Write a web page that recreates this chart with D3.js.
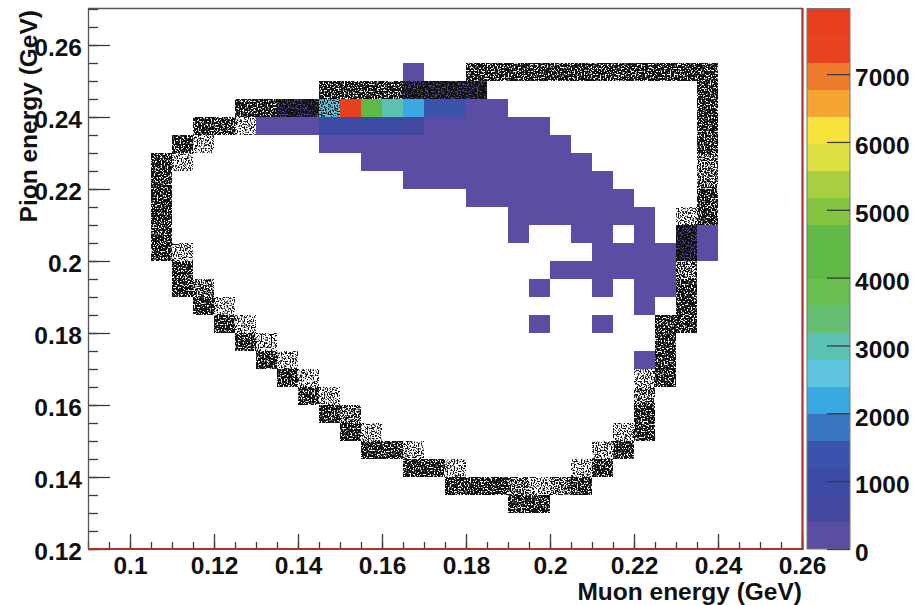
<!DOCTYPE html>
<html>
<head>
<meta charset="utf-8">
<script src="https://cdn.jsdelivr.net/npm/d3@7"></script>
<style>
  body { margin: 0; background: #fff; }
  text { font-family: "Liberation Sans", Arial, Helvetica, sans-serif; font-weight: bold; }
</style>
</head>
<body>
<svg id="chart" width="915" height="605"></svg>
<script>
var W = 915, H = 605;
var binW = 0.005;

// axis ticks
var xTicks = [0.1, 0.12, 0.14, 0.16, 0.18, 0.2, 0.22, 0.24, 0.26];
var yTicks = [0.12, 0.14, 0.16, 0.18, 0.2, 0.22, 0.24, 0.26];
var zTicks = [0, 1000, 2000, 3000, 4000, 5000, 6000, 7000];
var zMax = 7960;

// colour palette of the z axis, 20 contours from low to high
var palette = ['#5a4ea4', '#4447a0', '#3c4aa4', '#3a54ae', '#3a75c0', '#3aa8e2', '#5ec3dc', '#5bc2b2',
               '#64bf72', '#6abf52', '#60b847', '#60b847', '#84c440', '#a8cf40', '#dce040', '#f8e33c',
               '#f6a434', '#ee7a2c', '#e8441f', '#e8401f'];

// coloured histogram: [muon energy bin low edge, pion energy bin low edge, entries]
var histCells = [
  [0.165, 0.25, 180],
  [0.165, 0.245, 260], [0.17, 0.245, 300], [0.175, 0.245, 310], [0.18, 0.245, 240],
  [0.135, 0.24, 150], [0.14, 0.24, 240], [0.145, 0.24, 2600], [0.15, 0.24, 7960], [0.155, 0.24, 4250],
  [0.16, 0.24, 3050], [0.165, 0.24, 2250], [0.17, 0.24, 1550], [0.175, 0.24, 1400], [0.18, 0.24, 360], [0.185, 0.24, 220],
  [0.13, 0.235, 190], [0.135, 0.235, 240], [0.14, 0.235, 330], [0.145, 0.235, 880], [0.15, 0.235, 1000],
  [0.155, 0.235, 960], [0.16, 0.235, 900], [0.165, 0.235, 740], [0.17, 0.235, 380], [0.175, 0.235, 340],
  [0.18, 0.235, 300], [0.185, 0.235, 260], [0.19, 0.235, 210], [0.195, 0.235, 150],
  [0.145, 0.23, 300], [0.15, 0.23, 350], [0.155, 0.23, 370], [0.16, 0.23, 360], [0.165, 0.23, 340], [0.17, 0.23, 320],
  [0.175, 0.23, 300], [0.18, 0.23, 280], [0.185, 0.23, 250], [0.19, 0.23, 220], [0.195, 0.23, 180], [0.2, 0.23, 130],
  [0.155, 0.225, 260], [0.16, 0.225, 280], [0.165, 0.225, 300], [0.17, 0.225, 290], [0.175, 0.225, 280], [0.18, 0.225, 260],
  [0.185, 0.225, 240], [0.19, 0.225, 220], [0.195, 0.225, 200], [0.2, 0.225, 160], [0.205, 0.225, 120],
  [0.165, 0.22, 210], [0.17, 0.22, 230], [0.175, 0.22, 240], [0.18, 0.22, 230], [0.185, 0.22, 220],
  [0.19, 0.22, 210], [0.195, 0.22, 190], [0.2, 0.22, 170], [0.205, 0.22, 140], [0.21, 0.22, 110],
  [0.18, 0.215, 150], [0.185, 0.215, 170], [0.19, 0.215, 180], [0.195, 0.215, 170], [0.2, 0.215, 160],
  [0.205, 0.215, 140], [0.21, 0.215, 120], [0.215, 0.215, 100],
  [0.19, 0.21, 120], [0.195, 0.21, 130], [0.2, 0.21, 140], [0.205, 0.21, 130], [0.21, 0.21, 120], [0.215, 0.21, 110], [0.22, 0.21, 90],
  [0.19, 0.205, 80], [0.205, 0.205, 100], [0.21, 0.205, 110], [0.22, 0.205, 90], [0.23, 0.205, 70], [0.235, 0.205, 60],
  [0.21, 0.2, 90], [0.215, 0.2, 100], [0.22, 0.2, 100], [0.225, 0.2, 90], [0.23, 0.2, 80], [0.235, 0.2, 60],
  [0.2, 0.195, 70], [0.205, 0.195, 80], [0.21, 0.195, 90], [0.215, 0.195, 90], [0.22, 0.195, 80], [0.225, 0.195, 70],
  [0.195, 0.19, 50], [0.21, 0.19, 60], [0.22, 0.19, 60], [0.225, 0.19, 50],
  [0.22, 0.185, 40],
  [0.195, 0.18, 30], [0.21, 0.18, 30],
  [0.22, 0.17, 20]
];

// boundary histogram drawn as scatter: [muon energy bin low edge, pion energy bin low edge, entries]
var scatCells = [
  [0.18, 0.25, 820], [0.185, 0.25, 860], [0.19, 0.25, 850], [0.195, 0.25, 840], [0.2, 0.25, 830], [0.205, 0.25, 820],
  [0.21, 0.25, 810], [0.215, 0.25, 800], [0.22, 0.25, 760], [0.225, 0.25, 700], [0.23, 0.25, 720], [0.235, 0.25, 800],
  [0.145, 0.245, 860], [0.15, 0.245, 880], [0.155, 0.245, 870], [0.16, 0.245, 850], [0.165, 0.245, 800],
  [0.17, 0.245, 780], [0.175, 0.245, 760], [0.18, 0.245, 720], [0.235, 0.245, 800],
  [0.125, 0.24, 820], [0.13, 0.24, 780], [0.135, 0.24, 760], [0.14, 0.24, 740], [0.145, 0.24, 300], [0.235, 0.24, 790],
  [0.115, 0.235, 800], [0.12, 0.235, 650], [0.125, 0.235, 260], [0.235, 0.235, 780],
  [0.11, 0.23, 800], [0.115, 0.23, 260], [0.235, 0.23, 700],
  [0.105, 0.225, 800], [0.11, 0.225, 240], [0.235, 0.225, 500],
  [0.105, 0.22, 760], [0.235, 0.22, 500],
  [0.105, 0.215, 720], [0.235, 0.215, 760],
  [0.105, 0.21, 720], [0.23, 0.21, 250], [0.235, 0.21, 820],
  [0.105, 0.205, 740], [0.23, 0.205, 760],
  [0.105, 0.2, 780], [0.11, 0.2, 260], [0.23, 0.2, 760],
  [0.11, 0.195, 800], [0.23, 0.195, 480],
  [0.11, 0.19, 820], [0.115, 0.19, 480], [0.23, 0.19, 800],
  [0.115, 0.185, 820], [0.12, 0.185, 260], [0.23, 0.185, 820],
  [0.12, 0.18, 820], [0.125, 0.18, 260], [0.225, 0.18, 780], [0.23, 0.18, 800],
  [0.125, 0.175, 820], [0.13, 0.175, 260], [0.225, 0.175, 820],
  [0.13, 0.17, 820], [0.135, 0.17, 270], [0.225, 0.17, 820],
  [0.135, 0.165, 820], [0.14, 0.165, 270], [0.22, 0.165, 260], [0.225, 0.165, 800],
  [0.14, 0.16, 820], [0.145, 0.16, 260], [0.22, 0.16, 500],
  [0.145, 0.155, 820], [0.15, 0.155, 450], [0.22, 0.155, 800],
  [0.15, 0.15, 840], [0.155, 0.15, 260], [0.215, 0.15, 280], [0.22, 0.15, 820],
  [0.155, 0.145, 840], [0.16, 0.145, 800], [0.165, 0.145, 270], [0.21, 0.145, 280], [0.215, 0.145, 800],
  [0.165, 0.14, 840], [0.17, 0.14, 800], [0.175, 0.14, 260], [0.205, 0.14, 280], [0.21, 0.14, 820],
  [0.175, 0.135, 820], [0.18, 0.135, 800], [0.185, 0.135, 780], [0.19, 0.135, 480], [0.195, 0.135, 330],
  [0.2, 0.135, 500], [0.205, 0.135, 800],
  [0.19, 0.13, 860], [0.195, 0.13, 860]
];

var svg = d3.select("#chart");
var defs = svg.append("defs");

var x = d3.scaleLinear().domain([0.09, 0.26]).range([88, 802]);
var y = d3.scaleLinear().domain([0.12, 0.27]).range([549, 9]);
var z = d3.scaleLinear().domain([0, zMax]).range([549, 9]);
var colour = d3.scaleQuantize().domain([0, zMax]).range(palette);

// density of the scatter dots
var scatLevel = d3.scaleThreshold().domain([350, 600]).range(["light", "medium", "dark"]);
var scatCut = { light: 0.495, medium: 0.44, dark: 0.37 };

Object.keys(scatCut).forEach(function(k, i) {
    var f = defs.append("filter")
        .attr("id", "scat-" + k)
        .attr("filterUnits", "userSpaceOnUse")
        .attr("x", 0).attr("y", 0).attr("width", W).attr("height", H)
        .attr("color-interpolation-filters", "sRGB");
    f.append("feTurbulence")
        .attr("type", "fractalNoise")
        .attr("baseFrequency", 0.7)
        .attr("numOctaves", 1)
        .attr("seed", 3 + i)
        .attr("result", "noise");
    var s = 12;
    f.append("feColorMatrix")
        .attr("in", "noise")
        .attr("type", "matrix")
        .attr("values", "0 0 0 0 0  0 0 0 0 0  0 0 0 0 0  " + s + " 0 0 0 " + (-s * scatCut[k]))
        .attr("result", "mask");
    f.append("feComposite")
        .attr("in", "SourceGraphic")
        .attr("in2", "mask")
        .attr("operator", "in");
});

// coloured cells
svg.append("g")
    .selectAll("rect")
    .data(histCells)
    .enter()
    .append("rect")
    .attr("x", function(d) { return x(d[0]); })
    .attr("y", function(d) { return y(d[1] + binW); })
    .attr("width", function(d) { return x(d[0] + binW) - x(d[0]); })
    .attr("height", function(d) { return y(d[1]) - y(d[1] + binW); })
    .attr("fill", function(d) { return colour(d[2]); })
    .attr("shape-rendering", "crispEdges");

// scatter cells, one group per density
["light", "medium", "dark"].forEach(function(k) {
    svg.append("g")
        .attr("filter", "url(#scat-" + k + ")")
        .selectAll("rect")
        .data(scatCells.filter(function(d) { return scatLevel(d[2]) == k; }))
        .enter()
        .append("rect")
        .attr("x", function(d) { return x(d[0]); })
        .attr("y", function(d) { return y(d[1] + binW); })
        .attr("width", function(d) { return x(d[0] + binW) - x(d[0]); })
        .attr("height", function(d) { return y(d[1]) - y(d[1] + binW); })
        .attr("fill", "#111")
        .attr("shape-rendering", "crispEdges");
});

var fmt = function(d) { return String(+d.toFixed(2)); };
var xMinor = d3.range(0, 35).map(function(i) { return +(0.09 + 0.005 * i).toFixed(3); });
var yMinor = d3.range(0, 31).map(function(i) { return +(0.12 + 0.005 * i).toFixed(3); });

function styleAxis(g) {
    g.select(".domain").remove();
    g.attr("font-size", 24.5)
     .attr("font-family", '"Liberation Sans", Arial, Helvetica, sans-serif')
     .attr("color", "#3a3a3a");
    g.selectAll(".tick line").attr("stroke-width", 1.3);
    g.selectAll(".tick text").attr("fill", "#111");
}

// y axis
svg.append("g")
    .attr("transform", "translate(88,0)")
    .call(d3.axisLeft(y).tickValues(yMinor).tickSizeInner(-10).tickSizeOuter(0).tickFormat(""))
    .call(styleAxis);
svg.append("g")
    .attr("transform", "translate(88,0)")
    .call(d3.axisLeft(y).tickValues(yTicks).tickSizeInner(-22).tickSizeOuter(0).tickPadding(6).tickFormat(fmt))
    .call(styleAxis)
    .selectAll(".tick text").attr("dy", "0.42em");

// x axis
svg.append("g")
    .attr("transform", "translate(0,549)")
    .call(d3.axisBottom(x).tickValues(xMinor).tickSizeInner(-7).tickSizeOuter(0).tickFormat(""))
    .call(styleAxis);
svg.append("g")
    .attr("transform", "translate(0,549)")
    .call(d3.axisBottom(x).tickValues(xTicks).tickSizeInner(-15).tickSizeOuter(0).tickPadding(8).tickFormat(fmt))
    .call(styleAxis);

// frame
svg.append("line").attr("x1", 88.5).attr("x2", 88.5).attr("y1", 8.5).attr("y2", 549)
    .attr("stroke", "#555").attr("stroke-width", 1.3);
svg.append("line").attr("x1", 88).attr("x2", 803).attr("y1", 8.5).attr("y2", 8.5)
    .attr("stroke", "#555").attr("stroke-width", 1.3);
svg.append("line").attr("x1", 802.5).attr("x2", 802.5).attr("y1", 8).attr("y2", 550)
    .attr("stroke", "#a8352c").attr("stroke-width", 2.2);
svg.append("line").attr("x1", 88).attr("x2", 803.5).attr("y1", 549).attr("y2", 549)
    .attr("stroke", "#a8352c").attr("stroke-width", 2.2);

// colour bar
var bands = d3.range(palette.length);
var bandH = zMax / palette.length;
svg.append("g")
    .selectAll("rect")
    .data(bands)
    .enter()
    .append("rect")
    .attr("x", 807)
    .attr("width", 43)
    .attr("y", function(i) { return z((i + 1) * bandH); })
    .attr("height", function(i) { return z(i * bandH) - z((i + 1) * bandH); })
    .attr("fill", function(i) { return palette[i]; })
    .attr("shape-rendering", "crispEdges");
svg.append("rect")
    .attr("x", 807).attr("y", 8.5).attr("width", 43).attr("height", 540.5)
    .attr("fill", "none").attr("stroke", "#777").attr("stroke-width", 1);

svg.append("g")
    .attr("transform", "translate(850,0)")
    .call(d3.axisRight(z).tickValues(zTicks).tickSizeInner(-23).tickSizeOuter(0).tickPadding(5).tickFormat(d3.format("d")))
    .call(styleAxis)
    .selectAll(".tick text").attr("dy", "0.48em");

// axis titles
svg.append("text")
    .attr("text-anchor", "end")
    .attr("x", 802)
    .attr("y", 600)
    .attr("font-size", 24.5)
    .attr("fill", "#111")
    .text("Muon energy (GeV)");

svg.append("text")
    .attr("text-anchor", "end")
    .attr("transform", "translate(37,10) rotate(-90)")
    .attr("font-size", 24.5)
    .attr("fill", "#111")
    .text("Pion energy (GeV)");
</script>
</body>
</html>
